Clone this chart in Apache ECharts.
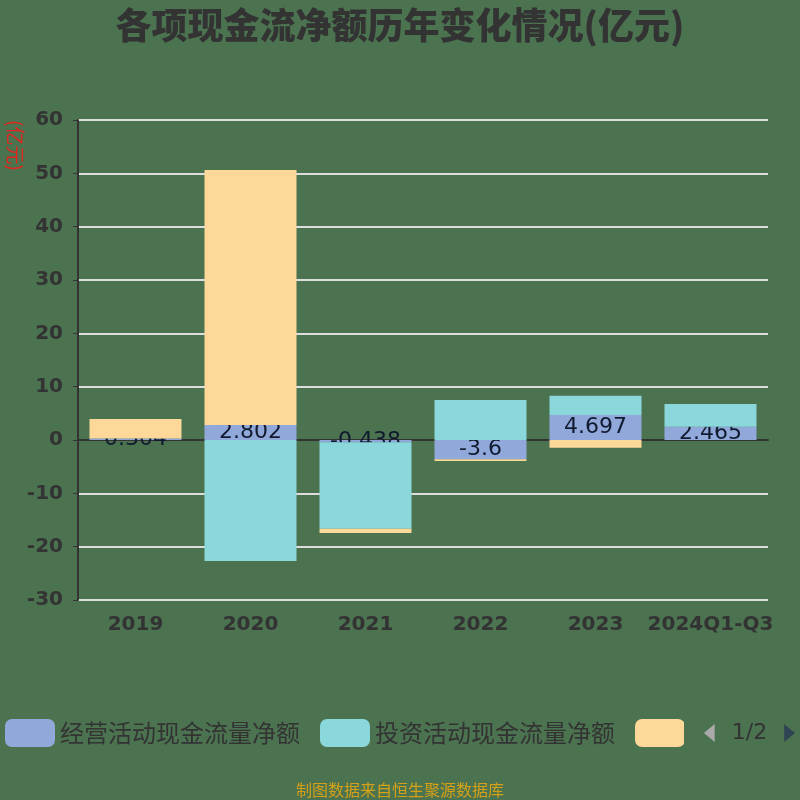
<!DOCTYPE html>
<html><head><meta charset="utf-8">
<script src="https://cdn.jsdelivr.net/npm/echarts@6/dist/echarts.min.js"></script>
<style>html,body{margin:0;padding:0;background:#4b7350;}#c{width:800px;height:800px;}</style>
</head><body><div id="c"></div>
<script>
const categories = ['2019','2020','2021','2022','2023','2024Q1-Q3'];
const operating = [0.304, 2.802, -0.438, -3.6, 4.697, 2.465];
const investing = [0, -22.7, -16.2, 7.5, 3.6, 4.28];
const financing = [3.63, 47.8, -0.8, -0.35, -1.44, 0];
const seriesNames = ['经营活动现金流量净额','投资活动现金流量净额','筹资活动现金流量净额'];
const yTicks = {min: -30, max: 60, interval: 10};

const chart = echarts.init(document.getElementById('c'));
const font = '"Noto Sans CJK SC", sans-serif';
const numFont = '"DejaVu Sans", "Noto Sans CJK SC", sans-serif';
chart.setOption({
  backgroundColor: '#4b7350',
  color: ['#91a8db', '#8ad8dc', '#fdd899'],
  title: {
    text: '各项现金流净额历年变化情况(亿元)', left: 'center', top: 2,
    textStyle: {fontSize: 36, fontWeight: 900, color: '#333', fontFamily: font}
  },
  graphic: [{
    type: 'text', left: 6, top: 120, rotation: -Math.PI/2,
    style: {text: '(亿元)', fill: '#e0261c', fontSize: 19, fontFamily: font}
  }],
  legend: {
    type: 'scroll', bottom: 48, left: 0, right: 0,
    itemWidth: 50, itemHeight: 28, itemGap: 20, icon: 'roundRect',
    textStyle: {fontSize: 24, color: '#333', fontFamily: font},
    pageIconColor: '#2f4554', pageIconInactiveColor: '#aaa', pageIconSize: 18,
    pageTextStyle: {fontSize: 22, color: '#333', fontFamily: numFont},
    data: seriesNames
  },
  grid: {left: 78, right: 32, top: 120, bottom: 200},
  xAxis: {
    type: 'category', data: categories,
    axisLine: {lineStyle: {color: '#333', width: 2}},
    axisTick: {lineStyle: {color: '#333'}},
    axisLabel: {fontSize: 20, fontWeight: 'bold', color: '#333', margin: 15, interval: 0, fontFamily: numFont}
  },
  yAxis: {
    type: 'value', min: yTicks.min, max: yTicks.max, interval: yTicks.interval,
    axisLine: {show: true, lineStyle: {color: '#333', width: 2}},
    axisTick: {show: true, lineStyle: {color: '#333'}},
    axisLabel: {fontSize: 20, fontWeight: 'bold', color: '#333', margin: 15, fontFamily: numFont},
    splitLine: {lineStyle: {color: '#dddddd', width: 2}}
  },
  series: [
    {name: seriesNames[0], type: 'bar', stack: 'a', barWidth: '80%', data: operating, z: 1,
     label: {show: true, position: 'inside', fontSize: 22, color: '#111a2e', fontFamily: numFont}},
    {name: seriesNames[1], type: 'bar', stack: 'a', data: investing, z: 2},
    {name: seriesNames[2], type: 'bar', stack: 'a', data: financing, z: 2}
  ]
});
</script>
<div style="position:absolute;left:0;top:777px;width:800px;text-align:center;color:#d4a017;font-size:16px;font-family:'Noto Sans CJK SC';">制图数据来自恒生聚源数据库</div>
</body></html>
